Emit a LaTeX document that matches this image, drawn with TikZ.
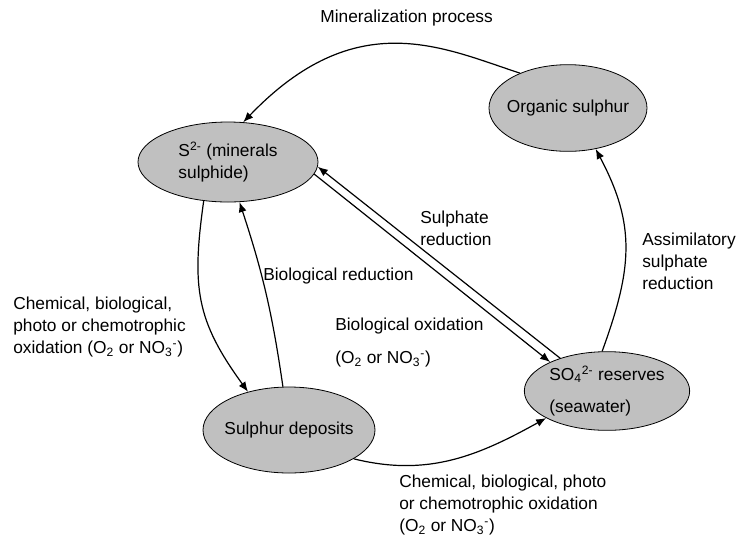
\documentclass[tikz,border=0pt]{standalone}
\usepackage{fontspec}
\setmainfont{Liberation Sans}
\usetikzlibrary{shapes.geometric,arrows.meta}
\definecolor{poolgray}{RGB}{192,192,192}

\begin{document}
\begin{tikzpicture}[x=15pt,y=15pt,font=\fontsize{13}{16.5}\selectfont,
	pool/.style={ellipse,draw,line width=0.6pt,fill=poolgray,inner sep=-10pt},
	flow/.style={line width=0.9pt,-{Latex[length=7.5pt,width=6pt]}},
	note/.style={align=left,anchor=west,inner sep=0pt}]
	\useasboundingbox (0,0) rectangle (36.85,-26.85);
	% the four sulphur pools
	\node[pool,minimum width=135pt,minimum height=60pt,align=left] (sulfide) at (11.4,-8.1) {S\textsuperscript{2-} (minerals\\sulphide)};
	\node[pool,minimum width=118.5pt,minimum height=65pt] (organic) at (28.4,-5.4) {Organic sulphur};
	\node[pool,minimum width=129pt,minimum height=64.5pt] (deposits) at (14.45,-21.5) {Sulphur deposits};
	\node[pool,minimum width=124pt,minimum height=59pt,align=left] (sulfate) at (30.35,-19.55) {SO\textsubscript{4}\textsuperscript{2-} reserves\\[8pt](seawater)};
	% process labels
	\node[inner sep=0pt] (minlbl) at (20.33,-0.9) {Mineralization process};
	\node[note] (sulredlbl) at (21.0,-11.43) {Sulphate\\reduction};
	\node[note] (assimlbl) at (32.1,-13.05) {Assimilatory\\sulphate\\reduction};
	\node[note] (bioredlbl) at (13.15,-13.8) {Biological reduction};
	\node[note] (biooxlbl) at (16.75,-17.13) {Biological oxidation\\[8pt](O\textsubscript{2} or NO\textsubscript{3}\textsuperscript{-})};
	\node[note] (chemleftlbl) at (0.65,-16.35) {Chemical, biological,\\photo or chemotrophic\\oxidation (O\textsubscript{2} or NO\textsubscript{3}\textsuperscript{-})};
	\node[note] (chembotlbl) at (19.95,-25.25) {Chemical, biological, photo\\or chemotrophic oxidation\\(O\textsubscript{2} or NO\textsubscript{3}\textsuperscript{-})};
	% mineralization arc over the top
	\draw[flow] (organic.144) .. controls +(-3.84,1.25) and +(5.65,5.9) .. (sulfide.69);
	% assimilation
	\draw[flow] (sulfate.97) to[out=70,in=-62,looseness=1.1] (organic.304);
	% oxidation to deposits and reduction back
	\draw[flow] (sulfide.238) to[out=262,in=126,looseness=1.15] (deposits.137);
	\draw[flow] (deposits.98) to[bend right=5] (sulfide.286);
	% sulphate reduction / biological oxidation pair
	\draw[flow] (sulfate.145) -- (sulfide.-3);
	\draw[flow] (sulfide.-8) -- (sulfate.153);
	% deposits oxidised to sulphate
	\draw[flow] (deposits.-24) to[out=-14,in=209] (sulfate.204);
\end{tikzpicture}
\end{document}
